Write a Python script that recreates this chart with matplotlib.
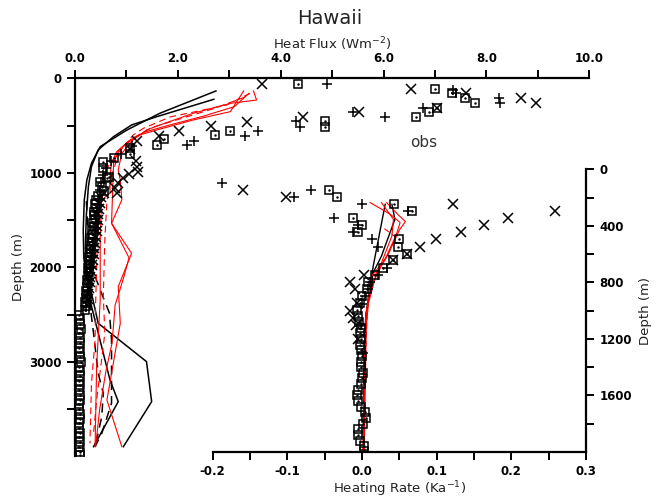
import matplotlib
matplotlib.use("Agg")
import matplotlib.pyplot as plt

# ---- heat flux profiles (main axes, depth 0-4000 m) ----
blk_a_x = [2.74, 1.65, 1.01, 0.49, 0.32, 0.23, 0.18, 0.16, 0.17, 0.22, 0.32, 0.45, 1.39, 1.49, 0.94]
blk_a_d = [134, 370, 547, 723, 899, 1076, 1287, 1600, 1900, 2100, 2275, 2592, 2998, 3421, 3898]
blk_b_x = [2.70, 1.59, 1.10, 0.75, 0.45, 0.32, 0.26, 0.22, 0.20, 0.24, 0.29, 0.68, 0.84, 0.36]
blk_b_d = [222, 406, 494, 617, 758, 934, 1146, 1450, 1800, 2100, 2346, 3192, 3421, 3898]
blk_c_x = [0.22, 0.26, 0.32, 0.49, 0.62, 0.67, 0.71, 0.71, 0.52, 0.39]
blk_c_d = [1300, 1700, 1993, 2240, 2416, 2486, 2769, 3439, 3756, 3898]
blk_d_x = [0.22, 0.28, 0.36, 0.45, 0.55, 0.52, 0.39]
blk_d_d = [2000, 2350, 2698, 3121, 3333, 3580, 3898]

red_a_x = [3.47, 3.53, 3.02, 2.30, 1.65, 1.39, 1.13, 0.91, 0.84, 0.88, 0.91, 0.71, 1.10, 0.84, 0.88, 0.62, 0.91]
red_a_d = [134, 230, 265, 370, 494, 547, 652, 793, 969, 1076, 1287, 1534, 1852, 2205, 2592, 3404, 3898]
red_b_x = [3.28, 3.02, 2.30, 1.59, 1.26, 1.01, 0.81, 0.71, 0.68, 0.68, 0.52, 0.49, 0.49, 0.42, 0.39]
red_b_d = [134, 353, 441, 547, 599, 687, 776, 899, 1040, 1216, 1287, 1640, 2346, 3051, 3898]
red_c_x = [3.38, 3.10, 2.50, 1.80, 1.35, 1.05, 0.85, 0.75, 0.71, 1.05, 0.95, 0.78, 0.72, 0.60, 0.48, 0.40]
red_c_d = [160, 300, 400, 500, 570, 660, 760, 900, 1534, 1900, 2100, 2400, 2800, 3100, 3500, 3898]
red_d_x = [3.40, 2.95, 2.43, 1.85, 1.33, 1.13, 0.95, 0.80, 0.70, 0.62, 0.58, 0.55, 0.58, 0.42, 0.36]
red_d_d = [160, 282, 343, 409, 529, 600, 720, 880, 1050, 1300, 1700, 2310, 2698, 3404, 3756]
red_e_x = [3.30, 2.70, 2.10, 1.50, 1.10, 0.85, 0.62, 0.50, 0.45, 0.42, 0.40, 0.39, 0.32, 0.29]
red_e_d = [200, 320, 420, 520, 640, 780, 950, 1150, 1500, 2000, 2400, 2769, 3227, 3862]

# ---- observations on the heat flux axes ----
obs_sq_x = [4.33, 7.00, 7.33, 7.59, 7.77, 7.04, 6.88, 6.63, 4.87, 4.87, 3.02, 2.72, 1.73, 1.59,
            1.07, 1.07, 0.76, 0.55, 0.55, 0.67, 0.63, 0.49, 0.52, 0.57, 0.44,
            0.40, 0.38, 0.40, 0.37, 0.36, 0.38, 0.35, 0.36, 0.33, 0.35, 0.32, 0.33, 0.31, 0.30, 0.31,
            0.28, 0.29, 0.27, 0.26, 0.27, 0.25, 0.24, 0.25, 0.23, 0.22, 0.23, 0.21, 0.20, 0.21, 0.19,
            0.08, 0.10, 0.09, 0.11, 0.08, 0.10, 0.09, 0.07, 0.10, 0.09, 0.11, 0.08, 0.09, 0.10, 0.07,
            0.09, 0.08, 0.10, 0.09, 0.07, 0.08, 0.10, 0.09, 0.08, 0.07, 0.09, 0.08, 0.10, 0.08, 0.09, 0.09]
obs_sq_d = [56, 113, 155, 211, 261, 313, 359, 408, 454, 514, 560, 605, 646, 706,
            742, 800, 846, 882, 952, 1041, 1053, 1094, 1150, 1192, 1246,
            1290, 1330, 1370, 1410, 1450, 1490, 1530, 1570, 1610, 1650, 1690, 1730, 1770, 1810, 1850,
            1890, 1930, 1970, 2010, 2050, 2090, 2130, 2170, 2210, 2250, 2290, 2330, 2370, 2410, 2450,
            2500, 2550, 2600, 2650, 2700, 2750, 2800, 2850, 2900, 2950, 3000, 3050, 3100, 3150, 3200,
            3250, 3300, 3350, 3400, 3450, 3500, 3550, 3600, 3650, 3700, 3750, 3800, 3850, 3900, 3950, 3990]
obs_x_x = [3.63, 6.54, 7.61, 8.67, 8.97, 7.04, 5.53, 4.44, 3.35, 2.64, 2.03, 1.64, 1.20, 1.07,
           1.19, 1.21, 1.22, 1.04, 0.94, 0.84, 0.78, 0.82, 0.56,
           0.50, 0.48, 0.47, 0.45, 0.44, 0.42, 0.42, 0.40, 0.39, 0.37, 0.36, 0.35, 0.33, 0.32,
           0.30, 0.29, 0.28, 0.26, 0.25, 0.24]
obs_x_d = [56, 113, 155, 211, 261, 313, 356, 408, 461, 507, 560, 612, 665, 753,
           876, 940, 990, 1017, 1053, 1105, 1158, 1211, 1211,
           1260, 1320, 1380, 1440, 1500, 1560, 1620, 1680, 1740, 1800, 1860, 1920, 1980, 2040,
           2100, 2160, 2220, 2280, 2340, 2400]
obs_p_x = [4.90, 7.34, 7.41, 8.24, 8.27, 6.76, 5.40, 6.03, 4.30, 4.38, 3.55, 3.31, 2.32, 2.18,
           1.10, 0.90, 0.70, 0.60, 0.55, 0.50, 0.48,
           0.45, 0.44, 0.43, 0.41, 0.40, 0.39, 0.38, 0.36, 0.35, 0.34, 0.33, 0.31, 0.30, 0.29,
           0.28, 0.26, 0.25, 0.24, 0.23, 0.22]
obs_p_d = [56, 120, 155, 211, 261, 313, 356, 408, 454, 514, 560, 612, 665, 711,
           720, 800, 870, 950, 1020, 1100, 1180,
           1280, 1340, 1400, 1460, 1520, 1580, 1640, 1700, 1760, 1820, 1880, 1940, 2000, 2060,
           2120, 2180, 2240, 2300, 2360, 2420]

# ---- heating rate profiles (inset axes, depth 0-2000 m) ----
hr_blk_a_x = [0.031, 0.015, 0.005, 0.003, 0.002, 0.002]
hr_blk_a_d = [248, 684, 1038, 1300, 1600, 2000]
hr_blk_b_x = [0.040, 0.044, 0.026, 0.015, 0.005, 0.003, 0.002]
hr_blk_b_d = [248, 354, 614, 731, 1038, 1400, 2000]
hr_red_a_x = [0.011, 0.038, 0.051, 0.046, 0.031, 0.013, 0.005, 0.003, 0.002]
hr_red_a_d = [236, 319, 377, 460, 637, 755, 1038, 1400, 2000]
hr_red_b_x = [0.026, 0.042, 0.040, 0.026, 0.010, 0.004, 0.002]
hr_red_b_d = [236, 354, 472, 661, 873, 1200, 2000]
hr_red_c_x = [0.033, 0.048, 0.058, 0.050, 0.035, 0.018, 0.006, 0.003]
hr_red_c_d = [236, 320, 370, 430, 600, 760, 1000, 2000]
hr_red_d_x = [0.030, 0.045, 0.035, 0.020, 0.008, 0.003, 0.001]
hr_red_d_d = [420, 480, 600, 720, 900, 1500, 2000]

hr_sq_x = [-0.044, -0.033, 0.043, 0.067, -0.012, 0.000, -0.005, 0.050, 0.048, 0.060, 0.041,
           0.028, 0.017, 0.008, 0.006, 0.000, -0.003, -0.007, -0.005,
           -0.004, -0.002, -0.003, -0.001, -0.003, -0.002, 0.000, -0.002, -0.001, 0.001, 0.000, -0.002,
           -0.005, -0.007, -0.006, -0.001, 0.004, 0.005, 0.001, -0.006, -0.005, -0.003, 0.002, 0.003]
hr_sq_d = [146, 196, 245, 295, 347, 396, 446, 496, 547, 597, 644,
           696, 750, 798, 845, 897, 944, 996, 1038,
           1080, 1120, 1160, 1200, 1240, 1280, 1320, 1360, 1400, 1440, 1480, 1520,
           1560, 1600, 1640, 1680, 1720, 1760, 1800, 1840, 1880, 1920, 1960, 1990]
hr_x_x = [-0.159, -0.102, 0.122, 0.259, 0.196, 0.164, 0.132, 0.099, 0.078, 0.060, 0.041,
          0.002, -0.016, -0.010, -0.007, -0.016, -0.012, -0.008, -0.005]
hr_x_d = [146, 196, 245, 295, 347, 396, 446, 496, 547, 597, 644,
          750, 798, 845, 944, 1003, 1050, 1100, 1200]
hr_p_x = [-0.187, -0.091, -0.068, 0.000, 0.062, -0.038, -0.006, -0.012, 0.013, 0.022, 0.033,
          0.022, 0.010, 0.008, 0.004, 0.000, -0.002, 0.001]
hr_p_d = [94, 196, 146, 245, 295, 347, 396, 446, 496, 547, 696,
          750, 800, 850, 900, 950, 1100, 1300]

top_ticks = [0, 1, 2, 3, 4, 5, 6, 7, 8, 9, 10]
top_labels = ['0.0', '', '2.0', '', '4.0', '', '6.0', '', '8.0', '', '10.0']
left_ticks = [0, 500, 1000, 1500, 2000, 2500, 3000, 3500]
left_labels = ['0', '', '1000', '', '2000', '', '3000', '']
bot_ticks = [-0.2, -0.15, -0.1, -0.05, 0.0, 0.05, 0.1, 0.15, 0.2, 0.25, 0.3]
bot_labels = ['-0.2', '', '-0.1', '', '0.0', '', '0.1', '', '0.2', '', '0.3']
right_ticks = [0, 200, 400, 600, 800, 1000, 1200, 1400, 1600, 1800]
right_labels = ['0', '', '400', '', '800', '', '1200', '', '1600', '']


def boxdot(ax, x, y):
    ax.plot(x, y, 's', ms=6.3, mfc='none', mec='black', mew=1.1, zorder=4)
    ax.plot(x, y, '.', ms=1.5, color='black', zorder=4)


fig = plt.figure(figsize=(6.61, 4.98), dpi=100)

# main axes: heat flux
ax = fig.add_axes([0.1135, 0.0837, 0.7781, 0.7591])
ax.plot(blk_a_x, blk_a_d, color='black', lw=1.1)
ax.plot(blk_b_x, blk_b_d, color='black', lw=1.1)
ax.plot(blk_c_x, blk_c_d, color='black', lw=1.1, ls=(0, (6, 4)))
ax.plot(blk_d_x, blk_d_d, color='black', lw=1.1, ls=(0, (6, 4)))
ax.plot(red_a_x, red_a_d, color='red', lw=0.8)
ax.plot(red_b_x, red_b_d, color='red', lw=0.8)
ax.plot(red_c_x, red_c_d, color='red', lw=0.8)
ax.plot(red_d_x, red_d_d, color='red', lw=0.8, ls=(0, (6, 4)))
ax.plot(red_e_x, red_e_d, color='red', lw=0.8, ls=(0, (6, 4)))

boxdot(ax, obs_sq_x, obs_sq_d)
ax.plot(obs_x_x, obs_x_d, 'x', ms=6.5, mew=1.1, color='black', zorder=4)
ax.plot(obs_p_x, obs_p_d, '+', ms=6.5, mew=1.1, color='black', zorder=4)
ax.text(6.77, 680, 'obs', ha='center', va='center', fontsize=11, color='#333333')

ax.set_xlim(0, 10)
ax.set_ylim(4000, 0)
ax.xaxis.tick_top()
ax.xaxis.set_label_position('top')
ax.set_xticks(top_ticks)
ax.set_xticklabels(top_labels, fontweight='bold')
ax.set_yticks(left_ticks)
ax.set_yticklabels(left_labels, fontweight='bold')
ax.tick_params(direction='out', length=6, width=1.4, labelsize=8.5)
for s in ['right', 'bottom']:
    ax.spines[s].set_visible(False)
for s in ['top', 'left']:
    ax.spines[s].set_linewidth(1.6)
ax.set_xlabel('Heat Flux (Wm$^{-2}$)', fontsize=9.5, labelpad=2, color='#222222')
ax.set_ylabel('Depth (m)', fontsize=9.5, labelpad=3, color='#222222')

# inset axes: heating rate
ax2 = fig.add_axes([0.3218, 0.0924, 0.5648, 0.5677])
ax2.patch.set_alpha(0)
ax2.plot(hr_blk_a_x, hr_blk_a_d, color='black', lw=1.0)
ax2.plot(hr_blk_b_x, hr_blk_b_d, color='black', lw=1.0)
ax2.plot(hr_red_a_x, hr_red_a_d, color='red', lw=0.8)
ax2.plot(hr_red_b_x, hr_red_b_d, color='red', lw=0.8)
ax2.plot(hr_red_c_x, hr_red_c_d, color='red', lw=0.8)
ax2.plot(hr_red_d_x, hr_red_d_d, color='red', lw=0.8, ls=(0, (5, 3)))
boxdot(ax2, hr_sq_x, hr_sq_d)
ax2.plot(hr_x_x, hr_x_d, 'x', ms=6.5, mew=1.1, color='black', zorder=4)
ax2.plot(hr_p_x, hr_p_d, '+', ms=6.5, mew=1.1, color='black', zorder=4)

ax2.set_xlim(-0.2, 0.3)
ax2.set_ylim(2000, 0)
ax2.yaxis.tick_right()
ax2.yaxis.set_label_position('right')
ax2.set_xticks(bot_ticks)
ax2.set_xticklabels(bot_labels, fontweight='bold')
ax2.set_yticks(right_ticks)
ax2.set_yticklabels(right_labels, fontweight='bold')
ax2.tick_params(direction='out', length=6, width=1.4, labelsize=8.5)
for s in ['left', 'top']:
    ax2.spines[s].set_visible(False)
for s in ['right', 'bottom']:
    ax2.spines[s].set_linewidth(1.6)
ax2.set_xlabel('Heating Rate (Ka$^{-1}$)', fontsize=9.5, labelpad=1, color='#222222')
ax2.set_ylabel('Depth (m)', fontsize=9.5, labelpad=5, color='#222222')

fig.text(0.499, 1 - 18 / 498, 'Hawaii', ha='center', va='center', fontsize=14, color='#222222')

fig.savefig('out.png', dpi=100)
